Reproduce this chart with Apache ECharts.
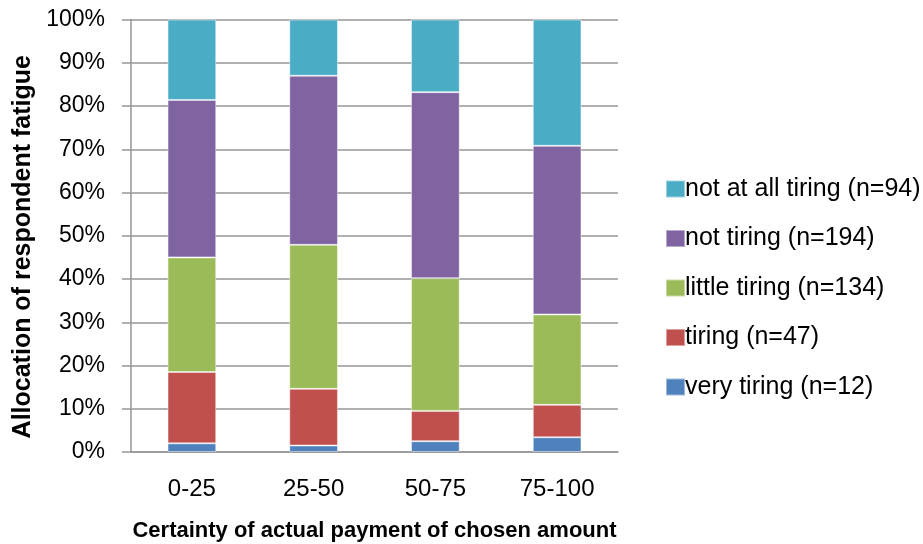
<!DOCTYPE html>
<html>
<head>
<meta charset="utf-8">
<script src="https://cdn.jsdelivr.net/npm/echarts@6/dist/echarts.min.js"></script>
<style>
	html, body { margin: 0; padding: 0; background: #fff; }
	#chart { width: 923px; height: 544px; }
</style>
</head>
<body>
<div id="chart"></div>
<script>
// categories and shares (%), bottom segment first
const categories = ["0-25", "25-50", "50-75", "75-100"];
const veryTiring = [2.0, 1.5, 2.5, 3.4];
const tiring = [16.5, 13.1, 7.0, 7.5];
const littleTiring = [26.5, 33.3, 30.7, 20.9];
const notTiring = [36.4, 39.1, 43.0, 39.0];
const notAtAllTiring = [18.6, 13.0, 16.8, 29.2];

const names = [
	"very tiring (n=12)",
	"tiring (n=47)",
	"little tiring (n=134)",
	"not tiring (n=194)",
	"not at all tiring (n=94)",
];
const colors = ["#4F81BD", "#C0504D", "#9BBB59", "#8064A2", "#4BACC6"];
const values = [veryTiring, tiring, littleTiring, notTiring, notAtAllTiring];

const font = "Liberation Sans";
const gray = "#969696";

let chart = echarts.init(document.getElementById("chart"));

let series = [];
for (let i = 0; i < names.length; i++) {
	series.push({
		name: names[i],
		type: "bar",
		stack: "all",
		data: values[i],
		barWidth: "40%",
		itemStyle: {
			color: colors[i],
			borderColor: "rgba(255,255,255,0.45)",
			borderWidth: 1,
		},
	});
}

let option = {
	animation: false,
	grid: { left: 131, right: 305, top: 19.5, bottom: 92, outerBoundsMode: "none" },
	legend: {
		orient: "vertical",
		left: 660,
		top: 171.5,
		itemWidth: 19,
		itemHeight: 17,
		itemGap: 24.5,
		icon: "rect",
		data: names.slice().reverse(),
		textStyle: { fontFamily: font, fontSize: 25, color: "#000", padding: [0, 0, 0, -5] },
	},
	xAxis: {
		type: "category",
		data: categories,
		name: "Certainty of actual payment of chosen amount",
		nameLocation: "middle",
		nameGap: 68,
		nameTextStyle: { fontFamily: font, fontSize: 22, fontWeight: "bold", color: "#000" },
		axisLine: { lineStyle: { color: gray, width: 1.5 } },
		axisTick: { length: 9, lineStyle: { color: gray, width: 1.5 } },
		axisLabel: { fontFamily: font, fontSize: 24, color: "#000", margin: 25 },
	},
	yAxis: {
		type: "value",
		min: 0,
		max: 100,
		interval: 10,
		name: "Allocation of respondent fatigue",
		nameLocation: "middle",
		nameGap: 94,
		nameTextStyle: {
			fontFamily: font,
			fontSize: 25,
			fontWeight: "bold",
			color: "#000",
			padding: [0, 22, 0, 0],
		},
		axisLine: { show: true, lineStyle: { color: gray, width: 1.5 } },
		axisTick: { show: true, length: 9, lineStyle: { color: gray, width: 1.5 } },
		splitLine: { lineStyle: { color: gray, width: 1.5 } },
		axisLabel: {
			fontFamily: font,
			fontSize: 23,
			color: "#000",
			margin: 26,
			formatter: "{value}%",
		},
	},
	series: series,
};

chart.setOption(option);
</script>
</body>
</html>
